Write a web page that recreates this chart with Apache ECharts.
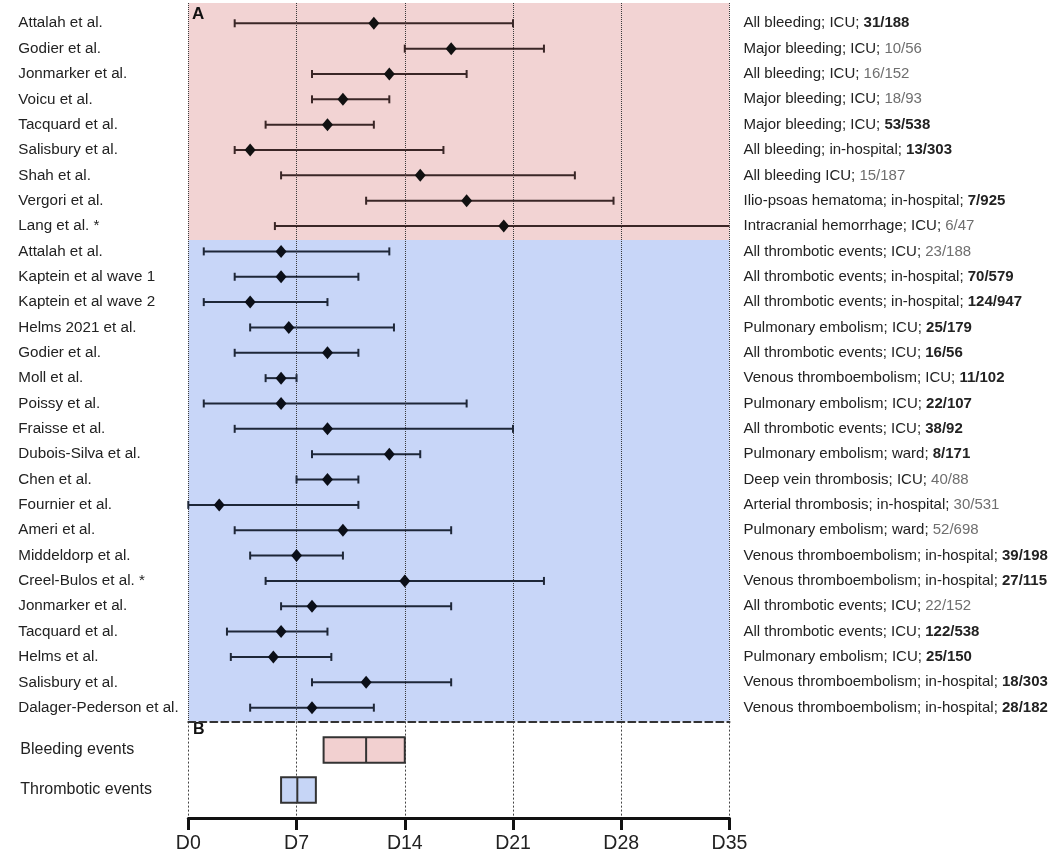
<!DOCTYPE html>
<html><head><meta charset="utf-8">
<script src="https://cdn.jsdelivr.net/npm/echarts@6/dist/echarts.min.js"></script>
<style>html,body{margin:0;padding:0;background:#fff}#c{width:1051px;height:856px}</style>
</head><body><div id="c"></div>
<script>
// ---------- data ----------
const studies = ['Attalah et al.','Godier et al.','Jonmarker et al.','Voicu et al.','Tacquard et al.','Salisbury et al.','Shah et al.','Vergori et al.','Lang et al. *',
  'Attalah et al.','Kaptein et al wave 1','Kaptein et al wave 2','Helms 2021 et al.','Godier et al.','Moll et al.','Poissy et al.','Fraisse et al.','Dubois-Silva et al.','Chen et al.',
  'Fournier et al.','Ameri et al.','Middeldorp et al.','Creel-Bulos et al. *','Jonmarker et al.','Tacquard et al.','Helms et al.','Salisbury et al.','Dalager-Pederson et al.'];
const outcomes = ['All bleeding; ICU; ','Major bleeding; ICU; ','All bleeding; ICU; ','Major bleeding; ICU; ','Major bleeding; ICU; ','All bleeding; in-hospital; ','All bleeding ICU; ','Ilio-psoas hematoma; in-hospital; ','Intracranial hemorrhage; ICU; ',
  'All thrombotic events; ICU; ','All thrombotic events; in-hospital; ','All thrombotic events; in-hospital; ','Pulmonary embolism; ICU; ','All thrombotic events; ICU; ','Venous thromboembolism; ICU; ','Pulmonary embolism; ICU; ','All thrombotic events; ICU; ','Pulmonary embolism; ward; ','Deep vein thrombosis; ICU; ',
  'Arterial thrombosis; in-hospital; ','Pulmonary embolism; ward; ','Venous thromboembolism; in-hospital; ','Venous thromboembolism; in-hospital; ','All thrombotic events; ICU; ','All thrombotic events; ICU; ','Pulmonary embolism; ICU; ','Venous thromboembolism; in-hospital; ','Venous thromboembolism; in-hospital; '];
const counts = ['31/188','10/56','16/152','18/93','53/538','13/303','15/187','7/925','6/47',
  '23/188','70/579','124/947','25/179','16/56','11/102','22/107','38/92','8/171','40/88',
  '30/531','52/698','39/198','27/115','22/152','122/538','25/150','18/303','28/182'];
const countBold = [1,0,0,0,1,1,0,1,0, 0,1,1,1,1,1,1,1,1,0, 0,0,1,1,0,1,1,1,1];
const lowerDay = [3,14,8,8,5,3,6,11.5,5.6, 1,3,1,4,3,5,1,3,8,7, 0,3,4,5,6,2.5,2.75,8,4];
const pointDay = [12,17,13,10,9,4,15,18,20.4, 6,6,4,6.5,9,6,6,9,13,9, 2,10,7,14,8,6,5.5,11.5,8];
const upperDay = [21,23,18,13,12,16.5,25,27.5,35, 13,11,9,13.3,11,7,18,21,15,11, 11,17,10,23,17,9,9.25,17,12];
const nBleeding = 9;

const boxLabels = ['Bleeding events','Thrombotic events'];
const boxQ1 = [8.75, 6];
const boxMedian = [11.5, 7.05];
const boxQ3 = [14, 8.25];

const dayTicks = [0,7,14,21,28,35];
const tickLabels = ['D0','D7','D14','D21','D28','D35'];

// ---------- styles ----------
const PINK = '#f2d3d3', BLUE = '#c8d6f8';
const PINK_INK = '#3a2626', BLUE_INK = '#1e2738';
const BOX_FILL = ['#f2d0d0', '#c6d5f6'];
const SANS = "'Liberation Sans',Arial,sans-serif";
const XMAX = 35;

const rows = studies.map((_, i) => i);
const chart = echarts.init(document.getElementById('c'));

const whiskerData = rows.map(i => [i, lowerDay[i], pointDay[i], upperDay[i]]);
const pointData = rows.map(i => [pointDay[i], i]);
const boxData = boxLabels.map((_, i) => [i, boxQ1[i], boxMedian[i], boxQ3[i]]);
const bandData = [[-0.8, nBleeding - 0.45, 0], [nBleeding - 0.45, 27.55, 1]];

const gridLeft = 188.3, gridRight = 1051 - 729.5;

chart.setOption({
  animation: false,
  grid: [
    {left: gridLeft, right: gridRight, top: 3, height: 718.6},
    {left: gridLeft, right: gridRight, top: 721.6, height: 96.4}
  ],
  xAxis: [
    {gridIndex: 0, type: 'value', min: 0, max: XMAX, interval: 7, position: 'bottom',
      axisLabel: {show: false}, axisTick: {show: false},
      axisLine: {show: true, onZero: false, lineStyle: {color: '#333', width: 2, type: [7, 4]}},
      splitLine: {show: true, lineStyle: {color: '#3a3a3a', width: 1, type: 'dotted'}}},
    {gridIndex: 1, type: 'value', min: 0, max: XMAX, interval: 7, position: 'bottom',
      axisLine: {show: true, onZero: false, lineStyle: {color: '#111', width: 3}},
      axisTick: {show: true, length: 12, lineStyle: {color: '#111', width: 3}},
      axisLabel: {fontFamily: SANS, fontSize: 19.5, color: '#222', margin: 16,
        formatter: v => tickLabels[dayTicks.indexOf(v)]},
      splitLine: {show: true, lineStyle: {color: '#444', width: 1, type: [2, 2]}}}
  ],
  yAxis: [
    {gridIndex: 0, type: 'value', min: -0.8, max: 27.55, inverse: true,
      axisLine: {show: false}, axisTick: {show: false}, splitLine: {show: false},
      axisLabel: {customValues: rows, align: 'left', margin: 170, fontFamily: SANS, fontSize: 15.2, color: '#222',
        formatter: v => studies[Math.round(v)]}},
    {gridIndex: 0, type: 'value', min: -0.8, max: 27.55, inverse: true, position: 'right',
      axisLine: {show: false}, axisTick: {show: false}, splitLine: {show: false},
      axisLabel: {customValues: rows, align: 'left', margin: 14,
        formatter: v => { const i = Math.round(v); return '{n|' + outcomes[i] + '}{' + (countBold[i] ? 'b' : 'g') + '|' + counts[i] + '}'; },
        rich: {
          n: {fontFamily: SANS, fontSize: 15, color: '#222'},
          b: {fontFamily: SANS, fontSize: 15, color: '#222', fontWeight: 'bold'},
          g: {fontFamily: SANS, fontSize: 15, color: '#6e6e6e'}
        }}},
    {gridIndex: 1, type: 'value', min: -0.71, max: 1.70, inverse: true,
      axisLine: {show: false}, axisTick: {show: false}, splitLine: {show: false},
      axisLabel: {customValues: [0, 1], align: 'left', margin: 168, fontFamily: SANS, fontSize: 16, color: '#222',
        formatter: v => boxLabels[Math.round(v)]}}
  ],
  graphic: [
    {type: 'text', left: 192, top: 6, style: {text: 'A', font: 'bold 17px ' + SANS, fill: '#111'}},
    {type: 'text', left: 193, top: 722, style: {text: 'B', font: 'bold 16px ' + SANS, fill: '#111'}}
  ],
  series: [
    {type: 'custom', xAxisIndex: 0, yAxisIndex: 0, z: -5, silent: true, data: bandData,
      encode: {y: [0, 1]},
      renderItem: (params, api) => {
        const a = api.coord([0, api.value(0)]), b = api.coord([XMAX, api.value(1)]);
        return {type: 'rect', shape: {x: a[0], y: a[1], width: b[0] - a[0], height: b[1] - a[1]},
          style: {fill: api.value(2) === 0 ? PINK : BLUE}};
      }},
    {type: 'custom', xAxisIndex: 0, yAxisIndex: 0, z: 3, silent: true, data: whiskerData,
      encode: {x: [1, 2, 3], y: 0},
      renderItem: (params, api) => {
        const row = api.value(0), lo = api.value(1), hi = api.value(3);
        const a = api.coord([lo, row]), b = api.coord([hi, row]);
        const style = {stroke: row < nBleeding ? PINK_INK : BLUE_INK, lineWidth: 2};
        const cap = 4;
        const ch = [{type: 'line', shape: {x1: a[0], y1: a[1], x2: b[0], y2: b[1]}, style}];
        ch.push({type: 'line', shape: {x1: a[0], y1: a[1] - cap, x2: a[0], y2: a[1] + cap}, style});
        if (hi < XMAX) ch.push({type: 'line', shape: {x1: b[0], y1: b[1] - cap, x2: b[0], y2: b[1] + cap}, style});
        return {type: 'group', children: ch};
      }},
    {type: 'scatter', xAxisIndex: 0, yAxisIndex: 0, z: 4, silent: true, data: pointData,
      symbol: 'diamond', symbolSize: [11, 13],
      itemStyle: {color: p => p.dataIndex < nBleeding ? '#111' : '#0b0f18', opacity: 1}},
    {type: 'custom', xAxisIndex: 1, yAxisIndex: 2, z: 3, silent: true, data: boxData,
      encode: {x: [1, 2, 3], y: 0},
      renderItem: (params, api) => {
        const row = api.value(0);
        const p1 = api.coord([api.value(1), row]), pm = api.coord([api.value(2), row]), p3 = api.coord([api.value(3), row]);
        const h = api.size([0, 0.64])[1];
        const stroke = {stroke: '#333', lineWidth: 2};
        return {type: 'group', children: [
          {type: 'rect', shape: {x: p1[0], y: p1[1] - h / 2, width: p3[0] - p1[0], height: h},
            style: Object.assign({fill: BOX_FILL[row]}, stroke)},
          {type: 'line', shape: {x1: pm[0], y1: pm[1] - h / 2, x2: pm[0], y2: pm[1] + h / 2}, style: stroke}
        ]};
      }}
  ]
});
</script></body></html>
